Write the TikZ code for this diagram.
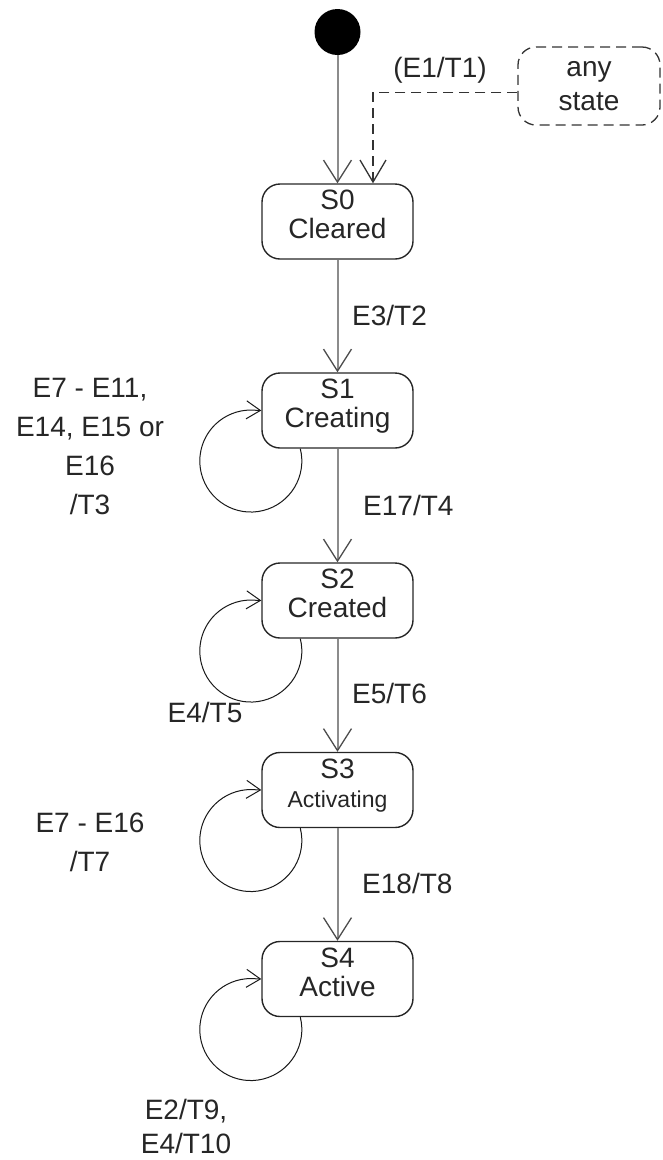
\documentclass[tikz,border=0pt]{standalone}
\usepackage{fontspec}
\setmainfont{Liberation Sans}
\usetikzlibrary{arrows.meta}
\newcommand\sttxt[2]{\raisebox{-3pt}[20pt][20pt]{\begin{tabular}{@{}c@{}}#1\\#2\end{tabular}}}
\begin{document}
\begin{tikzpicture}[x=1pt,y=-1pt,
  state/.style={draw=black!85, line width=1.4pt, rounded corners=18pt,
    minimum width=151pt, minimum height=75pt, inner sep=0pt,
    font=\fontsize{28}{29}\selectfont, text=black!85},
  lbl/.style={font=\fontsize{28}{39}\selectfont, text=black!85, align=center, inner sep=0pt},
  trans/.style={draw=black!45, line width=2pt,
    -{Straight Barb[length=22pt,width=28pt,line width=1.3pt,color=black!70]}},
  dtrans/.style={draw=black!80, line width=1.3pt, dash pattern=on 10pt off 6pt,
    -{Straight Barb[length=22pt,width=26pt,line width=1.3pt]}},
  selfloop/.style={draw=black!90, line width=1pt,
    -{Straight Barb[length=14pt,width=18pt,line width=1pt]}},
]
\useasboundingbox (0,0) rectangle (662,1160);

% nodes
\node[circle, fill=black, minimum size=46pt, inner sep=0pt] (init) at (337.5,32) {};
\node[draw=black!80, line width=1.3pt, dash pattern=on 10pt off 6pt, rounded corners=18pt,
  minimum width=142pt, minimum height=78pt, inner sep=0pt, align=center,
  font=\fontsize{28}{34}\selectfont, text=black!85] (any) at (589,86) {any\\state};
\node[state] (S0) at (337.5,221.5) {\sttxt{S0}{Cleared}};
\node[state] (S1) at (337.5,410.5) {\sttxt{S1}{Creating}};
\node[state] (S2) at (337.5,600.5) {\sttxt{S2}{Created}};
\node[state] (S3) at (337.5,790) {\raisebox{-3pt}[20pt][20pt]{\begin{tabular}{@{}c@{}}S3\\\fontsize{23}{31}\selectfont Activating\end{tabular}}};
\node[state] (S4) at (337.5,979) {\sttxt{S4}{Active}};

% labels
\node[lbl] (l1) at (440,70) {(E1/T1)};
\node[lbl, anchor=west] (l2) at (352,315) {E3/T2};
\node[lbl, anchor=west] (l4) at (363,505) {E17/T4};
\node[lbl, anchor=west] (l6) at (352,693) {E5/T6};
\node[lbl, anchor=west] (l8) at (362,883) {E18/T8};
\node[lbl] (l5) at (205,712) {E4/T5};
\node[lbl] (l3) at (90,446) {E7 - E11,\\E14, E15 or\\E16\\/T3};
\node[lbl] (l7) at (90,842) {E7 - E16\\/T7};
\node[lbl, font=\fontsize{28}{34}\selectfont] (l9) at (186,1126) {E2/T9,\\E4/T10};

% transitions
\draw[trans] (init.south) -- (S0.north);
\draw[dtrans] ([yshift=-6.5pt]any.west) -| ([xshift=35.5pt]S0.north);
\draw[trans] (S0) -- (S1);
\draw[trans] (S1) -- (S2);
\draw[trans] (S2) -- (S3);
\draw[trans] (S3) -- (S4);

% self loops
\foreach \s in {S1,S2,S3,S4}{
  \draw[selfloop] ([xshift=39pt]\s.south west) arc[start angle=-14, end angle=270, radius=51] -- (\s.west);
}
\end{tikzpicture}
\end{document}
